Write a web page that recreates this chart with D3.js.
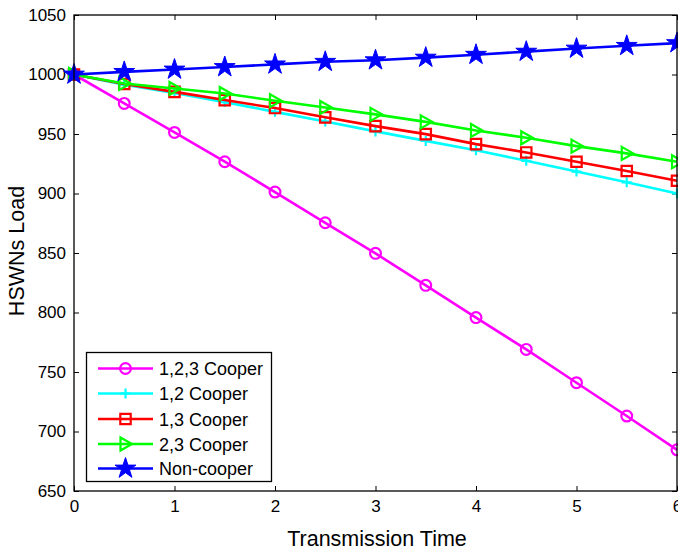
<!DOCTYPE html>
<html>
<head>
<meta charset="utf-8">
<script src="https://cdn.jsdelivr.net/npm/d3@7/dist/d3.min.js"></script>
<style>
  html, body { margin: 0; padding: 0; background: #fff; }
  svg { display: block; font-family: "Liberation Sans", Arial, Helvetica, sans-serif; }
</style>
</head>
<body>
<svg id="chart" width="678" height="551"></svg>
<script>
// Transmission time samples (every 0.5)
const times = [0, 0.5, 1, 1.5, 2, 2.5, 3, 3.5, 4, 4.5, 5, 5.5, 6];

// HSWNs load per cooperation scheme
const coop123 = [1000, 975.7, 951.3, 926.7, 901.2, 875.4, 849.7, 822.8, 795.7, 769.0, 741.0, 713.0, 684.6];
const coop12  = [1000, 991.5, 984.5, 976.8, 968.6, 960.5, 952.2, 944.2, 936.3, 927.5, 918.4, 909.4, 900.0];
const coop13  = [1000, 992.0, 985.4, 978.5, 971.8, 964.0, 956.6, 949.9, 941.5, 934.5, 926.7, 918.9, 910.7];
const coop23  = [1000, 992.5, 988.3, 984.0, 978.0, 972.3, 966.5, 960.2, 953.0, 946.8, 939.8, 933.7, 926.7];
const nonCoop = [1000, 1002.2, 1004.2, 1006.3, 1008.5, 1010.7, 1012.0, 1014.2, 1016.6, 1019.2, 1021.8, 1024.1, 1026.4];

const seriesNames = ["1,2,3 Cooper", "1,2 Cooper", "1,3 Cooper", "2,3 Cooper", "Non-cooper"];
const seriesColors = ["#ff00ff", "#00ffff", "#ff0000", "#00ff00", "#0000ff"];
const seriesMarkers = ["circle", "plus", "square", "triangleRight", "star"];
const seriesValues = [coop123, coop12, coop13, coop23, nonCoop];

const xTicks = [0, 1, 2, 3, 4, 5, 6];
const yTicks = [650, 700, 750, 800, 850, 900, 950, 1000, 1050];

const svg = d3.select("#chart");
const plot = { left: 74, right: 677, top: 15, bottom: 491 };

const x = d3.scaleLinear().domain([0, 6]).range([plot.left, plot.right]);
const y = d3.scaleLinear().domain([650, 1050]).range([plot.bottom, plot.top]);

// Marker shapes
function markerPath(type) {
  switch (type) {
    case "circle": return d3.symbol().type(d3.symbolCircle).size(Math.PI * 5.4 * 5.4)();
    case "square": return "M-5.2,-5.2H5.2V5.2H-5.2Z";
    case "plus": return "M-5,0H5M0,-5V5";
    case "triangleRight": return "M-5,-6.5L6.5,0L-5,6.5Z";
    case "star": return d3.symbol().type(d3.symbolStar).size(135)();
  }
}
function drawMarker(g, type, color) {
  const p = g.append("path").attr("d", markerPath(type))
    .attr("stroke", color).attr("stroke-width", 2.2);
  if (type === "star") p.attr("fill", color).attr("stroke-width", 1);
  else p.attr("fill", "none");
  return p;
}

// Axes box with inward ticks on all four sides
const axisG = svg.append("g");
const tickLen = 5;
const xAxisB = d3.axisBottom(x).tickValues(xTicks).tickFormat(d3.format("d")).tickSizeInner(-tickLen).tickSizeOuter(0).tickPadding(9);
const xAxisT = d3.axisTop(x).tickValues(xTicks).tickFormat("").tickSizeInner(-tickLen).tickSizeOuter(0);
const yAxisL = d3.axisLeft(y).tickValues(yTicks).tickFormat(d3.format("d")).tickSizeInner(-tickLen).tickSizeOuter(0).tickPadding(8);
const yAxisR = d3.axisRight(y).tickValues(yTicks).tickFormat("").tickSizeInner(-tickLen).tickSizeOuter(0);

function styleAxis(g) {
  g.select(".domain").remove();
  g.selectAll("line").attr("stroke", "#000").attr("stroke-width", 1);
  g.selectAll("text").attr("fill", "#000").style("font-size", "17px").style("font-family", "Liberation Sans, Arial, sans-serif");
}
axisG.append("g").attr("transform", `translate(0,${plot.bottom})`).call(xAxisB).call(styleAxis);
axisG.append("g").attr("transform", `translate(0,${plot.top})`).call(xAxisT).call(styleAxis);
axisG.append("g").attr("transform", `translate(${plot.left},0)`).call(yAxisL).call(styleAxis);
axisG.append("g").attr("transform", `translate(${plot.right},0)`).call(yAxisR).call(styleAxis);

// Series lines and markers
const line = d3.line().x((d, i) => x(times[i])).y(d => y(d));
seriesValues.forEach((vals, si) => {
  const g = svg.append("g");
  g.append("path").datum(vals).attr("d", line)
    .attr("fill", "none").attr("stroke", seriesColors[si]).attr("stroke-width", 2.6);
  vals.forEach((v, i) => {
    const mg = g.append("g").attr("transform", `translate(${x(times[i])},${y(v)})`);
    drawMarker(mg, seriesMarkers[si], seriesColors[si]);
  });
});

// Frame drawn over the data
svg.append("rect")
  .attr("x", plot.left).attr("y", plot.top)
  .attr("width", plot.right - plot.left).attr("height", plot.bottom - plot.top)
  .attr("fill", "none").attr("stroke", "#000").attr("stroke-width", 1.3);

// Axis titles
svg.append("text").attr("x", 377).attr("y", 546)
  .attr("text-anchor", "middle").style("font-size", "21.5px").text("Transmission Time");
svg.append("text").attr("transform", "translate(24,251) rotate(-90)")
  .attr("text-anchor", "middle").style("font-size", "21.5px").text("HSWNs Load");

// Legend
const legend = svg.append("g");
legend.append("rect").attr("x", 86.5).attr("y", 352.5).attr("width", 185).attr("height", 129)
  .attr("fill", "#fff").attr("stroke", "#000").attr("stroke-width", 1.3);
const rowY = [368.5, 393.5, 419, 444, 468.5];
seriesNames.forEach((name, si) => {
  const r = legend.append("g").attr("transform", `translate(0,${rowY[si]})`);
  r.append("line").attr("x1", 98).attr("x2", 153).attr("y1", 0).attr("y2", 0)
    .attr("stroke", seriesColors[si]).attr("stroke-width", 2.6);
  const mg = r.append("g").attr("transform", "translate(125.5,0)");
  drawMarker(mg, seriesMarkers[si], seriesColors[si]);
  r.append("text").attr("x", 159).attr("y", 6.5).style("font-size", "18px").attr("fill", "#000").text(name);
});
</script>
</body>
</html>
